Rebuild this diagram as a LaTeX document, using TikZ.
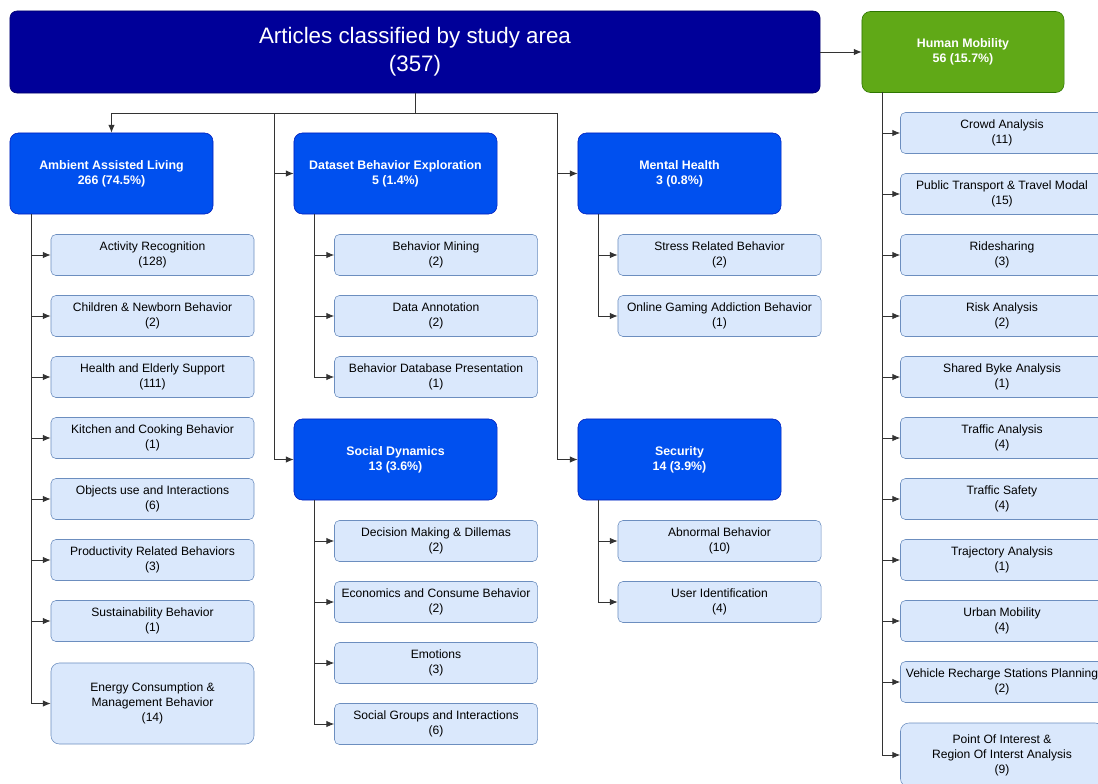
\documentclass[tikz,border=0pt]{standalone}
\usepackage{fontspec}
\setmainfont{Liberation Sans}
\usetikzlibrary{arrows.meta}
\usetikzlibrary{positioning}

\definecolor{rootblue}{HTML}{000099}
\definecolor{catblue}{HTML}{0050EF}
\definecolor{catline}{HTML}{001DBC}
\definecolor{mobgreen}{HTML}{60A917}
\definecolor{mobline}{HTML}{2D7600}
\definecolor{leaffill}{HTML}{DAE8FC}
\definecolor{leafline}{HTML}{6C8EBF}

\begin{document}
\begin{tikzpicture}[x=0.025cm,y=-0.025cm,>={Latex[length=5.5pt,width=4.5pt]},
  rootbox/.style={draw=rootblue!70!black,fill=rootblue,rounded corners=5pt,text=white,
    minimum width=20.25cm,minimum height=2.05cm,align=center,inner sep=0,
    font=\fontsize{15.9}{19.9}\selectfont},
  catbox/.style={draw=catline,fill=catblue,rounded corners=6pt,text=white,
    minimum width=5.075cm,minimum height=2.025cm,align=center,inner sep=0,
    font=\fontsize{8.8}{10.7}\selectfont\bfseries},
  mobbox/.style={catbox,draw=mobline,fill=mobgreen,minimum width=5.05cm},
  leaf/.style={draw=leafline,fill=leaffill,rounded corners=3.5pt,
    minimum width=5.075cm,minimum height=1.025cm,align=center,inner sep=0,
    font=\fontsize{8.6}{10.7}\selectfont},
  bigleaf/.style={leaf,rounded corners=6pt,minimum height=2.025cm},
  link/.style={->,draw=black!80,line width=0.6pt}]

\useasboundingbox (0,0) rectangle (1098,783);
\clip (0,0) rectangle (1098,783);

\node[rootbox] (root) at (415,52) {Articles classified by study area\\(357)};
\node[mobbox] (HM) at (963,52) {Human Mobility\\56 (15.7\%)};

\node[catbox] (AAL) at (111.5,173.5) {Ambient Assisted Living\\266 (74.5\%)};
\node[catbox] (DBE) at (395.5,173.5) {Dataset Behavior Exploration\\5 (1.4\%)};
\node[catbox] (MH) at (679.5,173.5) {Mental Health\\3 (0.8\%)};
\node[catbox] (SD) at (395.5,459.5) {Social Dynamics\\13 (3.6\%)};
\node[catbox] (SEC) at (679.5,459.5) {Security\\14 (3.9\%)};

\node[leaf] (AAL1) at (152.5,255) {Activity Recognition\\(128)};
\node[leaf] (AAL2) at (152.5,316) {Children \& Newborn Behavior\\(2)};
\node[leaf] (AAL3) at (152.5,377) {Health and Elderly Support\\(111)};
\node[leaf] (AAL4) at (152.5,438) {Kitchen and Cooking Behavior\\(1)};
\node[leaf] (AAL5) at (152.5,499) {Objects use and Interactions\\(6)};
\node[leaf] (AAL6) at (152.5,560) {Productivity Related Behaviors\\(3)};
\node[leaf] (AAL7) at (152.5,621) {Sustainability Behavior\\(1)};
\node[bigleaf] (AAL8) at (152.5,703.5) {Energy Consumption \&\\Management Behavior\\(14)};

\node[leaf] (DBE1) at (436,255) {Behavior Mining\\(2)};
\node[leaf] (DBE2) at (436,316) {Data Annotation\\(2)};
\node[leaf] (DBE3) at (436,377) {Behavior Database Presentation\\(1)};

\node[leaf] (MH1) at (719.5,255) {Stress Related Behavior\\(2)};
\node[leaf] (MH2) at (719.5,316) {Online Gaming Addiction Behavior\\(1)};

\node[leaf] (SD1) at (436,541) {Decision Making \& Dillemas\\(2)};
\node[leaf] (SD2) at (436,602) {Economics and Consume Behavior\\(2)};
\node[leaf] (SD3) at (436,663) {Emotions\\(3)};
\node[leaf] (SD4) at (436,724) {Social Groups and Interactions\\(6)};

\node[leaf] (SEC1) at (719.5,541) {Abnormal Behavior\\(10)};
\node[leaf] (SEC2) at (719.5,602) {User Identification\\(4)};

\node[leaf] (HM1) at (1002,133) {Crowd Analysis\\(11)};
\node[leaf] (HM2) at (1002,194) {Public Transport \& Travel Modal\\(15)};
\node[leaf] (HM3) at (1002,255) {Ridesharing\\(3)};
\node[leaf] (HM4) at (1002,316) {Risk Analysis\\(2)};
\node[leaf] (HM5) at (1002,377) {Shared Byke Analysis\\(1)};
\node[leaf] (HM6) at (1002,438) {Traffic Analysis\\(4)};
\node[leaf] (HM7) at (1002,499) {Traffic Safety\\(4)};
\node[leaf] (HM8) at (1002,560) {Trajectory Analysis\\(1)};
\node[leaf] (HM9) at (1002,621) {Urban Mobility\\(4)};
\node[leaf] (HM10) at (1002,682) {Vehicle Recharge Stations Planning\\(2)};
\node[bigleaf,minimum height=1.6cm] (HM11) at (1002,755) {Point Of Interest \&\\Region Of Interst Analysis\\(9)};

\coordinate (rootJ) at (415,113);
\coordinate (dbeT) at (274,113);
\coordinate (mhT) at (557,113);

\draw[link,-] (root.south) -- (rootJ);
\draw[link] (rootJ) -| (AAL.north);
\draw[link,-] (rootJ) -- (mhT);
\draw[link] (dbeT) |- (DBE.west);
\draw[link] (dbeT) |- (SD.west);
\draw[link] (mhT) |- (MH.west);
\draw[link] (mhT) |- (SEC.west);
\draw[link] (root.east) -- (HM.west);

\coordinate (aalT) at (31,214);
\draw[link] (aalT) |- (AAL1.west);
\draw[link] (aalT) |- (AAL2.west);
\draw[link] (aalT) |- (AAL3.west);
\draw[link] (aalT) |- (AAL4.west);
\draw[link] (aalT) |- (AAL5.west);
\draw[link] (aalT) |- (AAL6.west);
\draw[link] (aalT) |- (AAL7.west);
\draw[link] (aalT) |- (AAL8.west);

\coordinate (dbeB) at (314,214);
\draw[link] (dbeB) |- (DBE1.west);
\draw[link] (dbeB) |- (DBE2.west);
\draw[link] (dbeB) |- (DBE3.west);

\coordinate (mhB) at (598,214);
\draw[link] (mhB) |- (MH1.west);
\draw[link] (mhB) |- (MH2.west);

\coordinate (sdB) at (314,500);
\draw[link] (sdB) |- (SD1.west);
\draw[link] (sdB) |- (SD2.west);
\draw[link] (sdB) |- (SD3.west);
\draw[link] (sdB) |- (SD4.west);

\coordinate (secB) at (598,500);
\draw[link] (secB) |- (SEC1.west);
\draw[link] (secB) |- (SEC2.west);

\coordinate (hmB) at (882,92);
\draw[link] (hmB) |- (HM1.west);
\draw[link] (hmB) |- (HM2.west);
\draw[link] (hmB) |- (HM3.west);
\draw[link] (hmB) |- (HM4.west);
\draw[link] (hmB) |- (HM5.west);
\draw[link] (hmB) |- (HM6.west);
\draw[link] (hmB) |- (HM7.west);
\draw[link] (hmB) |- (HM8.west);
\draw[link] (hmB) |- (HM9.west);
\draw[link] (hmB) |- (HM10.west);
\draw[link] (hmB) |- (HM11.west);

\end{tikzpicture}
\end{document}
